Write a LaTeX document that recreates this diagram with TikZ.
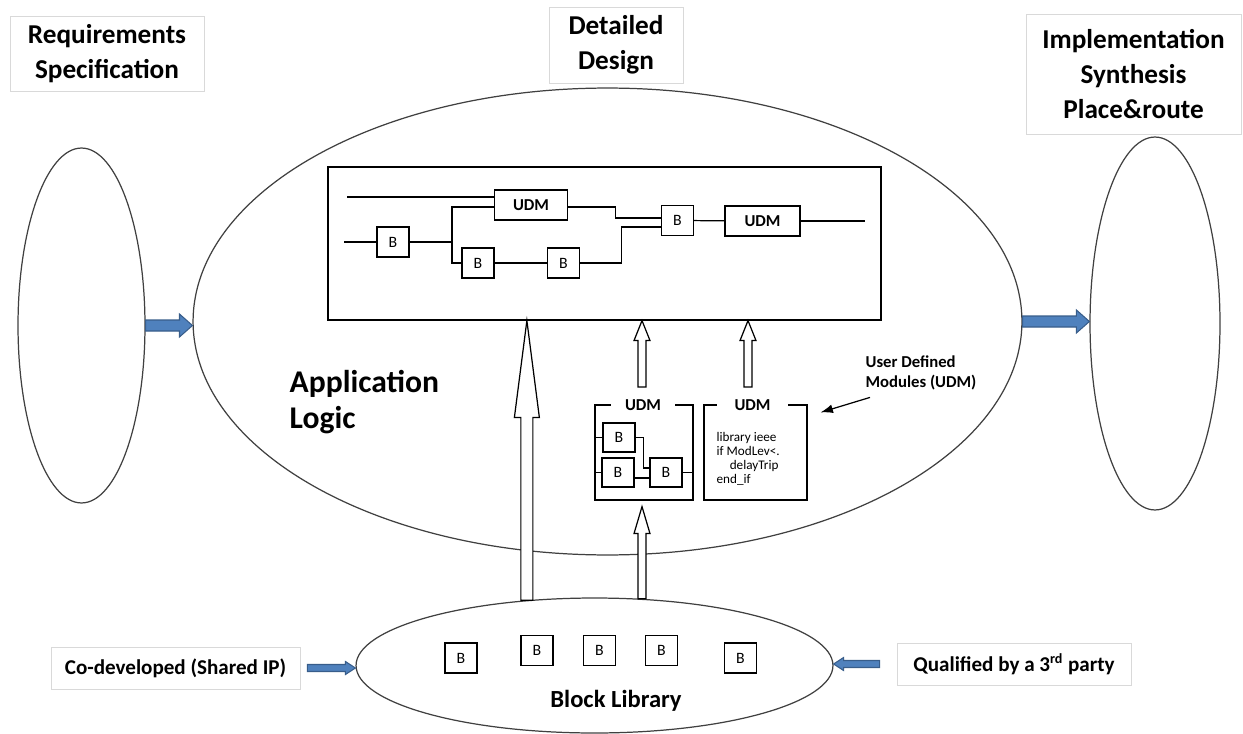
\documentclass[tikz,border=0pt]{standalone}
\usepackage{fontspec}
\setmainfont{Carlito}
\usetikzlibrary{calc,shapes.geometric,arrows.meta}

\definecolor{arrowblue}{HTML}{4F81BD}
\definecolor{arrowedge}{HTML}{385D8A}
\definecolor{boxgrey}{HTML}{D9D9D9}

% block arrow: [style]{from}{to}{half shaft}{half head}{head length}
\newcommand{\blockarrow}[6][]{%
  \coordinate (ba neck) at ($(#3)!#6!(#2)$);
  \draw[#1] ($(#2)!#4!90:(#3)$) -- ($(ba neck)!#4!90:(#3)$) -- ($(ba neck)!#5!90:(#3)$) -- (#3)
    -- ($(ba neck)!#5!-90:(#3)$) -- ($(ba neck)!#4!-90:(#3)$) -- ($(#2)!#4!-90:(#3)$) -- cycle;
}

\begin{document}
\begin{tikzpicture}[x=0.02cm,y=-0.02cm,line width=0.7pt,
  stage/.style={draw=boxgrey,line width=0.4pt,align=center,inner sep=0pt,font=\fontsize{15.5}{19.8}\selectfont\bfseries},
  side/.style={draw=boxgrey,line width=0.4pt,inner sep=0pt,font=\fontsize{12}{14}\selectfont\bfseries},
  phase/.style={ellipse,draw=black!75,inner sep=0pt},
  blk/.style={draw,minimum width=0.64cm,minimum height=0.6cm,inner sep=0pt,font=\fontsize{9}{10}\selectfont},
  udmbox/.style={draw,minimum height=0.6cm,inner sep=0pt,font=\fontsize{9.5}{11}\selectfont\bfseries},
  grp/.style={draw,minimum height=1.9cm,inner sep=0pt},
  grptitle/.style={fill=white,inner sep=1pt,minimum height=0.3cm,font=\fontsize{9.5}{11}\selectfont\bfseries},
  bluearrow/.style={fill=arrowblue,draw=arrowedge,line width=0.6pt},
  whitearrow/.style={fill=white,draw=black,line width=0.7pt}]
\useasboundingbox (0,0) rectangle (1243,733);

% phases
\node[phase,minimum width=2.54cm,minimum height=7.1cm] (reqell) at (81.5,325.5) {};
\node[phase,minimum width=16.58cm,minimum height=9.34cm] (design) at (607.5,321.5) {};
\node[phase,minimum width=2.6cm,minimum height=7.46cm] (implell) at (1155,323.5) {};
\node[phase,minimum width=9.54cm,minimum height=2.7cm] (lib) at (594.5,665.5) {};

\node[stage,minimum width=3.88cm,minimum height=1.5cm] (reqlbl) at (107,53.5) {Requirements\\Specification};
\node[stage,minimum width=2.68cm,minimum height=1.52cm] (dsglbl) at (616,45) {Detailed\\Design};
\node[stage,minimum width=4.3cm,minimum height=2.4cm] (implbl) at (1133.5,74) {Implementation\\Synthesis\\Place\&route};

\node[anchor=west,align=left,inner sep=0pt,font=\fontsize{18}{20}\selectfont\bfseries] (applbl) at (289,402) {Application\\Logic};

% detailed design
\node[draw,minimum width=11.06cm,minimum height=3.06cm,inner sep=0pt] (diag) at (604.5,243.5) {};
\node[blk] (b1) at (393,242) {B};
\node[udmbox,minimum width=1.46cm] (u1) at (531,205) {UDM};
\node[blk] (b2) at (478,263) {B};
\node[blk] (b3) at (563.5,263) {B};
\node[blk] (b4) at (677.5,220.5) {B};
\node[udmbox,minimum width=1.5cm] (u2) at (762.5,221) {UDM};
\coordinate (in1) at (347,197);
\coordinate (in2) at (344,242);
\coordinate (fork) at (452,242);
\coordinate (out) at (865,221);
\draw (in1) -- (in1 -| u1.west);
\draw (in2) -- (b1.west);
\draw (b1.east) -- (fork);
\draw ($(u1.west)+(0,2)$) -| (fork) |- (b2.west);
\draw (b2) -- (b3);
\draw (b3.east) -- ++(41,0) |- ($(b4.west)+(0,6.5)$);
\draw ($(u1.east)+(0,2)$) -- ++(47,0) |- ($(b4.west)+(0,-2.5)$);
\draw (b4) -- (u2);
\draw (u2) -- (out);

% user defined modules
\node[grp,minimum width=1.96cm] (udmA) at (644,452.5) {};
\node[grptitle,minimum width=1.28cm] (udmAt) at (643,405) {UDM};
\node[blk,minimum height=0.58cm] (ba) at (619,437.5) {B};
\node[blk,minimum height=0.58cm] (bb) at (618,472.5) {B};
\node[blk,minimum height=0.58cm] (bc) at (666,472.5) {B};
\draw (udmA.west |- ba) -- (ba.west);
\draw (udmA.west |- bb) -- (bb.west);
\draw (ba.east) -- ++(8,0) |- ($(bc.west)+(0,-4.5)$);
\draw ($(bb.east)+(0,5.5)$) -- ($(bc.west)+(0,5.5)$);
\draw (bc.east) -- (bc.east -| udmA.east);

\node[grp,minimum width=2.06cm] (udmB) at (755.5,452.5) {};
\node[grptitle,minimum width=1.42cm] (udmBt) at (752.5,405) {UDM};
\node[anchor=north west,align=left,inner sep=0pt,font=\fontsize{7.5}{8}\selectfont] (codeB) at (716,432) {library ieee\\if ModLev<.\\\quad delayTrip\\end\_if};

\node[align=left,inner sep=0pt,font=\fontsize{9.5}{11}\selectfont\bfseries] (udmnote) at (921,373) {User Defined\\Modules (UDM)};
\coordinate (notehead) at ($(udmB.north east)+(13,8)$);
\draw[-{Latex[length=7pt,width=5pt]}] ($(udmnote.south)+(-51,7)$) -- (notehead);

% block library
\foreach \x/\y [count=\i] in {461/658,537/650.5,599.5/650.5,661.5/650.5,740.5/658}
  \node[blk] (lb\i) at (\x,\y) {B};
\node[inner sep=0pt,font=\fontsize{14}{16}\selectfont\bfseries] (liblbl) at (616,701) {Block Library};

\node[side,minimum width=4.98cm,minimum height=0.84cm] (codev) at (175.5,668) {Co-developed (Shared IP)};
\node[side,minimum width=4.68cm,minimum height=0.84cm] (qual) at (1014,664) {Qualified by a 3\textsuperscript{rd} party};

% blue arrows
\coordinate (dsgin) at (design.west |- reqell.east);
\coordinate (implin) at (implell.west |- design.east);
\coordinate (codevout) at ($(codev.east)+(7,0)$);
\coordinate (libin1) at (lib.west |- codevout);
\coordinate (qualout) at ($(qual.west)+(-17,0)$);
\coordinate (libin2) at (lib.east |- qualout);
\blockarrow[bluearrow]{reqell.east}{dsgin}{0.11cm}{0.23cm}{0.26cm}
\blockarrow[bluearrow]{design.east}{implin}{0.11cm}{0.23cm}{0.26cm}
\blockarrow[bluearrow]{codevout}{libin1}{0.07cm}{0.13cm}{0.2cm}
\blockarrow[bluearrow]{qualout}{libin2}{0.07cm}{0.13cm}{0.2cm}

% white arrows
\coordinate (tallin) at (lib.136 |- diag.south);
\blockarrow[whitearrow]{lib.136}{tallin}{0.12cm}{0.25cm}{1.94cm}
\coordinate (udmAup) at ($(udmAt.center)+(-1,-18)$);
\coordinate (udmBup) at ($(udmBt.center)+(-4.5,-18)$);
\coordinate (udmAdiag) at (udmAup |- diag.south);
\coordinate (udmBdiag) at (udmBup |- diag.south);
\blockarrow[whitearrow]{udmAup}{udmAdiag}{0.08cm}{0.16cm}{0.4cm}
\blockarrow[whitearrow]{udmBup}{udmBdiag}{0.08cm}{0.16cm}{0.4cm}
\coordinate (udmAin) at ($(udmA.south)+(-2,6)$);
\coordinate (libup) at (udmAin |- lib.54.5);
\blockarrow[whitearrow]{libup}{udmAin}{0.08cm}{0.16cm}{0.54cm}
\end{tikzpicture}
\end{document}
